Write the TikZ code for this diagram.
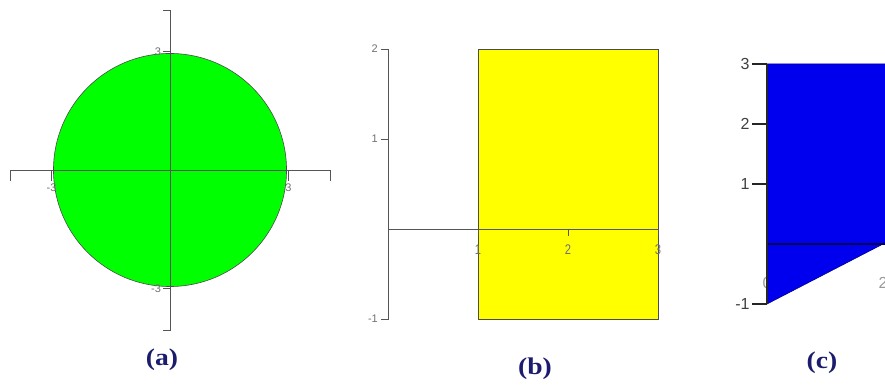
\documentclass[tikz,border=0pt]{standalone}
\usepackage{fontspec}
\setmainfont{Liberation Serif}
\newfontfamily\axisfont{Liberation Sans}
\usetikzlibrary{positioning, calc}
\definecolor{DiscGreen}{HTML}{00FF00}
\definecolor{BoxYellow}{HTML}{FFFF00}
\definecolor{WedgeBlue}{HTML}{0000EE}
\definecolor{CaptionNavy}{HTML}{1C1C6E}
\definecolor{AxisGray}{HTML}{555555}
\definecolor{TickGray}{HTML}{707070}
\tikzset{
    axisline/.style={draw=AxisGray, line width=0.9pt},
    darkaxis/.style={draw=black!85, line width=1.2pt},
    region/.style={draw=black!70, line width=0.6pt},
    ticklabel/.style={font=\axisfont\fontsize{11}{11}\selectfont, text=TickGray, inner sep=1pt},
    tallticklabel/.style={ticklabel, font=\axisfont\fontsize{14}{14}\selectfont, xscale=0.8},
    biglabel/.style={font=\axisfont\fontsize{16}{16}\selectfont, text=black!75, inner sep=1pt},
    caption/.style={font=\bfseries\fontsize{24}{24}\selectfont, text=CaptionNavy, xscale=1.15},
}
\begin{document}
\begin{tikzpicture}[x=1pt, y=1pt]
    \useasboundingbox (0,0) rectangle (885,390);
    \clip (0,0) rectangle (885,390);

    % (a) disc
    \begin{scope}[shift={(170,220)}, x=39.5pt, y=39.5pt]
        \filldraw[fill=DiscGreen, region] (0,0) circle[radius=2.95];
        \draw[axisline] (-4.05,-0.28) -- (-4.05,0) -- (4.05,0) -- (4.05,-0.28);
        \draw[axisline] (-0.18,4.05) -- (0,4.05) -- (0,-4.05) -- (-0.18,-4.05);
        \foreach \x in {-3,3} \draw[axisline] (\x,0) -- (\x,-0.28);
        \foreach \y in {-3,3} \draw[axisline] (-0.18,\y) -- (0,\y);
        \node[ticklabel, anchor=north] (a-xm) at (-3,-0.32) {-3};
        \node[ticklabel, anchor=north] (a-xp) at (3,-0.32) {3};
        \node[ticklabel, anchor=east] (a-yp) at (-0.2,3) {3};
        \node[ticklabel, anchor=east] (a-ym) at (-0.2,-3) {-3};
    \end{scope}
    \node[caption] (capa) at (162,30) {(a)};

    % (b) rectangle
    \begin{scope}[shift={(388,161)}, x=90pt, y=90pt]
        \filldraw[fill=BoxYellow, region] (1,-1) rectangle (3,2);
        \draw[axisline] (0,0) -- (3,0);
        \draw[axisline] (-0.08,2) -- (0,2) -- (0,-1) -- (-0.08,-1);
        \draw[axisline] (-0.08,1) -- (0,1);
        \foreach \x in {1,2,3} {
            \draw[axisline] (\x,0) -- (\x,-0.08);
            \node[tallticklabel, anchor=north] (b-x\x) at (\x,-0.16) {\x};
        }
        \foreach \y in {-1,1,2}
            \node[ticklabel, anchor=east] (b-y\y) at (-0.1,\y) {\y};
    \end{scope}
    \node[caption] (capb) at (535,21) {(b)};

    % (c) wedge
    \begin{scope}[shift={(767,146)}, x=58pt, y=60pt]
        \node[biglabel, text=black!40] (c-x0) at (0,-0.65) {0};
        \node[biglabel, text=black!40] (c-x2) at (2,-0.65) {2};
        \filldraw[fill=WedgeBlue, draw=WedgeBlue!60!black, line width=0.6pt]
            (0,3) -- (2.5,3) -- (2.5,0.25) -- (2,0) -- (0,-1) -- cycle;
        \draw[darkaxis, draw=WedgeBlue!35!black, line width=1.6pt] (0,0) -- (2.5,0);
        \draw[darkaxis] (0,-1) -- (0,3);
        \foreach \y in {-1,1,2,3} {
            \draw[darkaxis] (-0.26,\y) -- (0,\y);
            \node[biglabel, anchor=east] (c-y\y) at (-0.28,\y) {\y};
        }
    \end{scope}
    \node[caption] (capc) at (822,27) {(c)};
\end{tikzpicture}
\end{document}
